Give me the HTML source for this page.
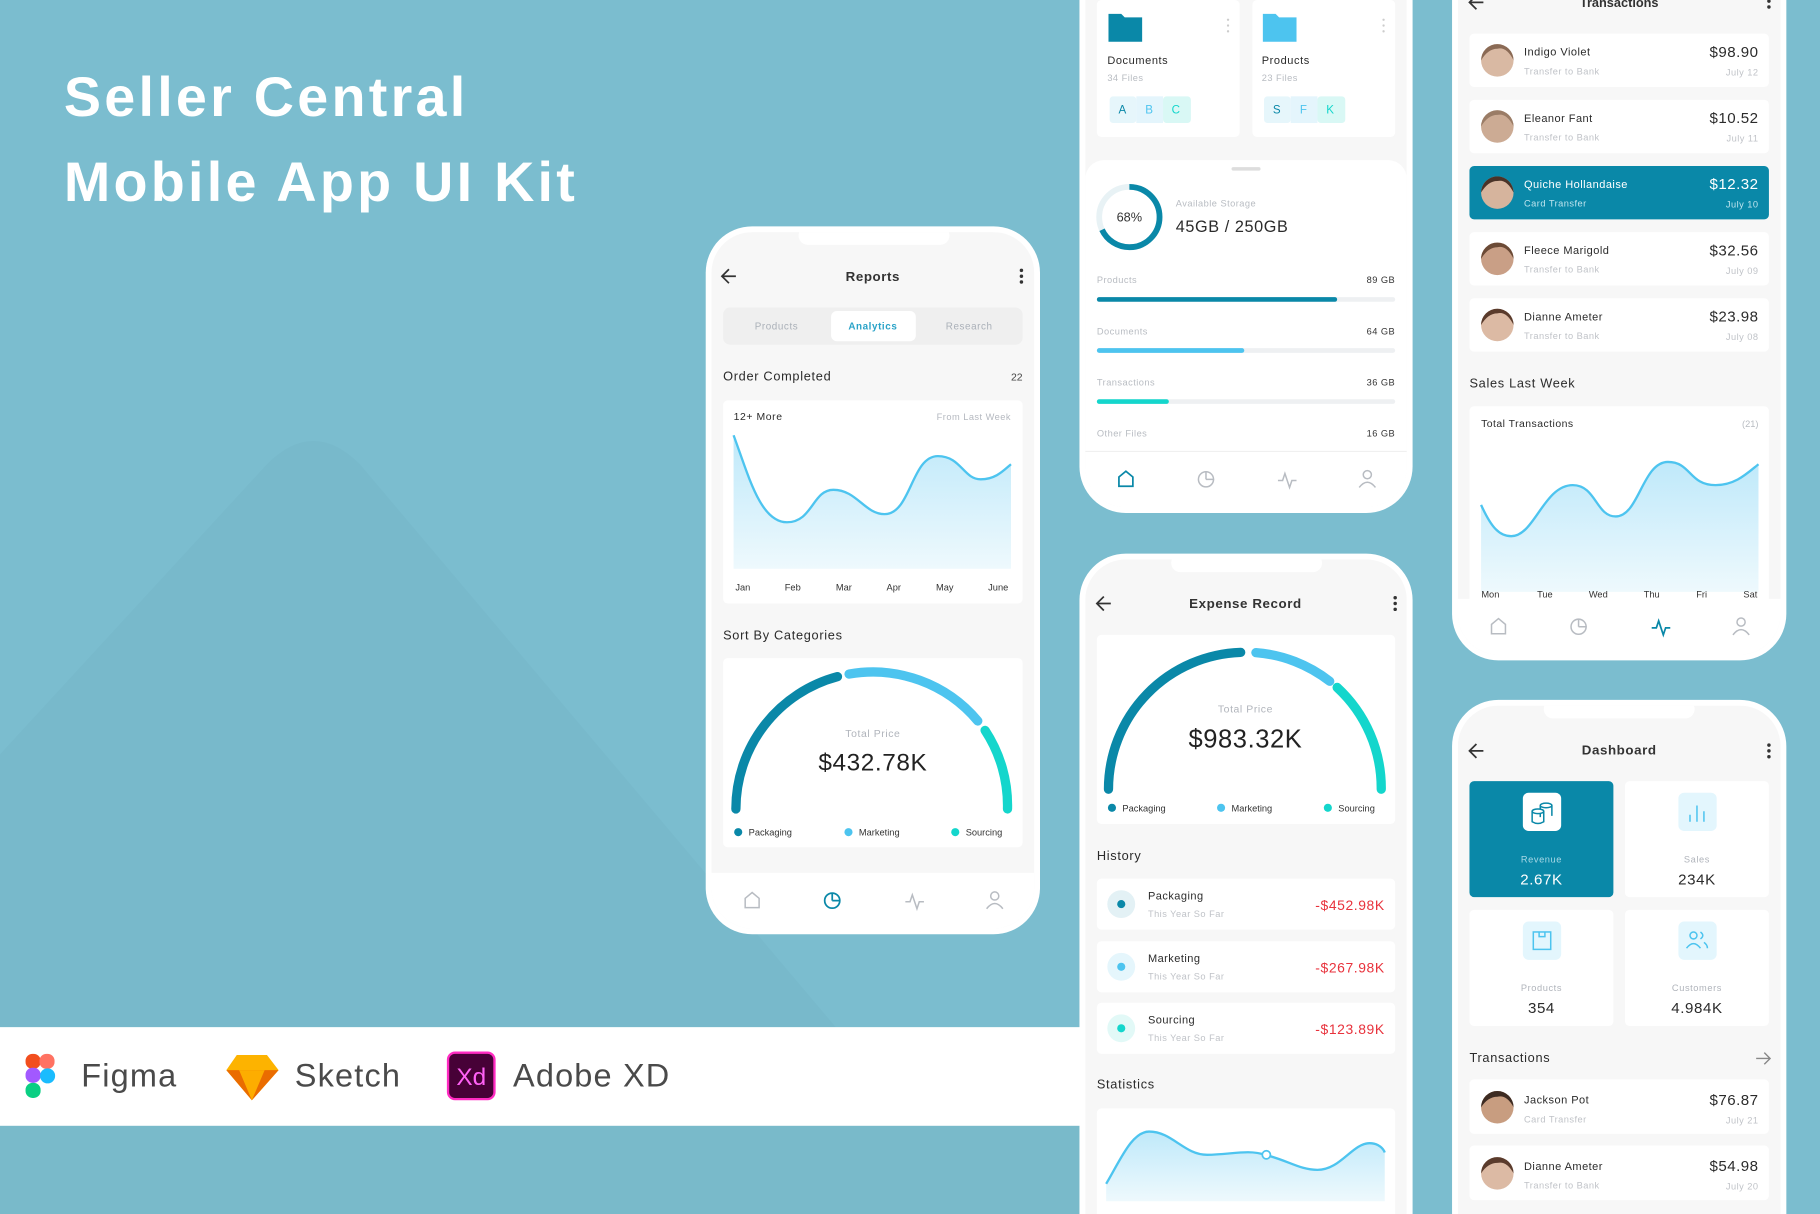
<!DOCTYPE html>
<html><head><meta charset="utf-8"><style>
html,body{margin:0;padding:0;width:1820px;height:1214px;overflow:hidden;background:#7bbdcf}
svg{display:block}
text{font-family:"Liberation Sans",sans-serif}
</style></head><body>
<svg width="1820" height="1214" viewBox="0 0 1568 1046" preserveAspectRatio="none" xmlns="http://www.w3.org/2000/svg">
<defs>
<linearGradient id="fillg" x1="0" y1="0" x2="0" y2="1"><stop offset="0" stop-color="#bfe9fa"/><stop offset="1" stop-color="#eef9fd"/></linearGradient>
<clipPath id="c1"><rect x="613" y="200" width="278" height="600" rx="35"/></clipPath>
<clipPath id="c2"><rect x="935" y="-40" width="277" height="477" rx="35"/></clipPath>
<clipPath id="c3"><rect x="935" y="482" width="277" height="610" rx="35"/></clipPath>
<clipPath id="c4"><rect x="1256" y="-40" width="278" height="604" rx="35"/></clipPath>
<clipPath id="c5"><rect x="1256" y="608" width="278" height="480" rx="35"/></clipPath>
</defs>
<rect width="1568" height="1046" fill="#7bbdcf"/>
<path d="M0,650 L230,400 Q270,360 310,400 L720,885 L0,885 Z" fill="#78b9cb"/>
<path d="M0,970 L930,970 L930,1046 L0,1046 Z" fill="#79baca"/>
<text x="55" y="100" font-size="48" font-weight="bold" fill="#fff" letter-spacing="2.8">Seller Central</text>
<text x="55" y="173" font-size="48" font-weight="bold" fill="#fff" letter-spacing="2.8">Mobile App UI Kit</text>
<!-- bottom bar -->
<rect x="0" y="885" width="932" height="85" fill="#fff"/>
<g>
<rect x="22" y="908" width="13" height="13" rx="6" fill="#f24e1e"/><rect x="34" y="908" width="13" height="13" rx="6" fill="#ff7262"/>
<rect x="22" y="920" width="13" height="13" rx="6" fill="#a259ff"/><circle cx="41" cy="927" r="6.5" fill="#1abcfe"/>
<rect x="22" y="933" width="13" height="13" rx="6" fill="#0acf83"/>
</g>
<text x="70" y="936" font-size="28" fill="#4a4a4a" letter-spacing="1">Figma</text>
<polygon points="204,909 230,909 240,922 217,948 195,922" fill="#fdb300"/><polygon points="195,922 240,922 217,948" fill="#ea6c00"/><polygon points="206,922 228,922 217,948" fill="#fdad00"/>
<text x="254" y="936" font-size="28" fill="#4a4a4a" letter-spacing="1">Sketch</text>
<rect x="386" y="907" width="40" height="40" rx="6" fill="#470137" stroke="#ff2bc2" stroke-width="2"/>
<text x="406" y="935" font-size="21" fill="#ff61f6" text-anchor="middle">Xd</text>
<text x="442" y="936" font-size="28" fill="#4a4a4a" letter-spacing="1">Adobe XD</text>

<!-- PHONE 1 Reports -->
<rect x="608" y="195" width="288" height="610" rx="40" fill="#fff"/>
<g clip-path="url(#c1)">
<rect x="613" y="200" width="278" height="600" fill="#f7f7f7"/>
<rect x="688" y="195" width="130" height="16" rx="8" fill="#fff"/>
<path d="M634,238 H622 M628,232 L622,238 L628,244" stroke="#333" stroke-width="1.5" fill="none"/>
<text x="752" y="242" font-size="11.5" fill="#333" text-anchor="middle" font-weight="bold" letter-spacing=".5">Reports</text>
<circle cx="880" cy="233" r="1.5" fill="#333"/><circle cx="880" cy="238" r="1.5" fill="#333"/><circle cx="880" cy="243" r="1.5" fill="#333"/>
<rect x="623" y="265" width="258" height="32" rx="6" fill="#efefef"/>
<rect x="716" y="268" width="73" height="26" rx="5" fill="#fff"/>
<text x="669" y="284" font-size="8.5" fill="#aab0b8" text-anchor="middle" letter-spacing=".5">Products</text>
<text x="752" y="284" font-size="8.5" fill="#2aa3c8" text-anchor="middle" font-weight="bold" letter-spacing=".5">Analytics</text>
<text x="835" y="284" font-size="8.5" fill="#aab0b8" text-anchor="middle" letter-spacing=".5">Research</text>
<text x="623" y="328" font-size="11" fill="#2b2b2b" letter-spacing=".6">Order Completed</text>
<text x="881" y="328" font-size="9" fill="#444" text-anchor="end">22</text>
<rect x="623" y="345" width="258" height="175" rx="4" fill="#fff"/>
<text x="632" y="362" font-size="9" fill="#2b2b2b" letter-spacing=".5">12+ More</text>
<text x="871" y="362" font-size="8" fill="#b5b9c0" text-anchor="end" letter-spacing=".4">From Last Week</text>
<path d="M632,375 C645,410 655,450 678,450 C700,450 700,422 718,422 C738,422 745,443 762,443 C785,443 785,393 808,393 C828,393 830,413 845,413 C858,413 865,405 871,400 L871,490 L632,490 Z" fill="url(#fillg)"/>
<path d="M632,375 C645,410 655,450 678,450 C700,450 700,422 718,422 C738,422 745,443 762,443 C785,443 785,393 808,393 C828,393 830,413 845,413 C858,413 865,405 871,400" fill="none" stroke="#4dc4ef" stroke-width="2"/>
<g font-size="8" fill="#333" text-anchor="middle"><text x="640" y="509">Jan</text><text x="683" y="509">Feb</text><text x="727" y="509">Mar</text><text x="770" y="509">Apr</text><text x="814" y="509">May</text><text x="860" y="509">June</text></g>
<text x="623" y="551" font-size="11" fill="#2b2b2b" letter-spacing=".6">Sort By Categories</text>
<rect x="623" y="567" width="258" height="163" rx="4" fill="#fff"/>
<path d="M634,697 A118,118 0 0 1 721.5,583" fill="none" stroke="#0a88a8" stroke-width="8" stroke-linecap="round"/>
<path d="M731.5,580.8 A118,118 0 0 1 842.4,621.2" fill="none" stroke="#4dc4ef" stroke-width="8" stroke-linecap="round"/>
<path d="M848.7,629.3 A118,118 0 0 1 868,697" fill="none" stroke="#14d6cc" stroke-width="8" stroke-linecap="round"/>
<text x="752" y="635" font-size="9" fill="#b0b4bb" text-anchor="middle" letter-spacing=".5">Total Price</text>
<text x="752" y="664" font-size="21" fill="#222" text-anchor="middle" letter-spacing=".5">$432.78K</text>
<g font-size="8" fill="#333"><circle cx="636" cy="717" r="3.5" fill="#0a88a8"/><text x="645" y="720">Packaging</text><circle cx="731" cy="717" r="3.5" fill="#4dc4ef"/><text x="740" y="720">Marketing</text><circle cx="823" cy="717" r="3.5" fill="#14d6cc"/><text x="832" y="720">Sourcing</text></g>
<rect x="613" y="752" width="278" height="60" fill="#fff"/>
<g stroke="#b8bcc2" stroke-width="1.3" fill="none">
<path d="M642,782 V774 L648,769 L654,774 V782 Z"/>
<circle cx="857" cy="772" r="3.5"/><path d="M850,783 Q857,774 864,783"/>
<path d="M780,777 H784 L786,771 L790,783 L792,777 H796"/>
</g>
<circle cx="717" cy="776" r="6.5" fill="none" stroke="#0a88a8" stroke-width="1.5"/><path d="M717,776 V769 M717,776 H724" stroke="#0a88a8" stroke-width="1.5"/>
</g>

<!-- PHONE 2 storage -->
<rect x="930" y="-45" width="287" height="487" rx="40" fill="#fff"/>
<g clip-path="url(#c2)">
<rect x="935" y="-40" width="277" height="477" fill="#f7f7f7"/>
<rect x="945" y="0" width="123" height="118" rx="4" fill="#fff"/>
<rect x="1079" y="0" width="123" height="118" rx="4" fill="#fff"/>
<path d="M955,12 H966 L969,15 H984 V36 H955 Z" fill="#0a88a8"/>
<path d="M1088,12 H1099 L1102,15 H1117 V36 H1088 Z" fill="#4dc4ef"/>
<g fill="#ccc"><circle cx="1058" cy="17" r="1"/><circle cx="1058" cy="22" r="1"/><circle cx="1058" cy="27" r="1"/><circle cx="1192" cy="17" r="1"/><circle cx="1192" cy="22" r="1"/><circle cx="1192" cy="27" r="1"/></g>
<text x="954" y="55" font-size="9.5" fill="#2b2b2b" letter-spacing=".5">Documents</text>
<text x="954" y="70" font-size="8" fill="#b8bcc2" letter-spacing=".4">34 Files</text>
<text x="1087" y="55" font-size="9.5" fill="#2b2b2b" letter-spacing=".5">Products</text>
<text x="1087" y="70" font-size="8" fill="#b8bcc2" letter-spacing=".4">23 Files</text>
<rect x="956" y="83" width="23" height="23" rx="3" fill="#e6f6fb"/><rect x="979" y="83" width="23" height="23" fill="#e4f5fc"/><rect x="1002" y="83" width="24" height="23" rx="3" fill="#d9f8f5"/>
<rect x="1089" y="83" width="23" height="23" rx="3" fill="#e6f6fb"/><rect x="1112" y="83" width="23" height="23" fill="#e4f5fc"/><rect x="1135" y="83" width="24" height="23" rx="3" fill="#d9f8f5"/>
<g font-size="10" text-anchor="middle"><text x="967" y="98" fill="#0a88a8">A</text><text x="990" y="98" fill="#4dc4ef">B</text><text x="1013" y="98" fill="#14d6cc">C</text><text x="1100" y="98" fill="#0a88a8">S</text><text x="1123" y="98" fill="#4dc4ef">F</text><text x="1146" y="98" fill="#14d6cc">K</text></g>
<rect x="935" y="138" width="277" height="300" rx="16" fill="#fff"/>
<rect x="1061" y="144" width="25" height="3" rx="1.5" fill="#ddd"/>
<circle cx="973" cy="187" r="26" fill="none" stroke="#e8f2f5" stroke-width="5"/>
<circle cx="973" cy="187" r="26" fill="none" stroke="#0a88a8" stroke-width="5" stroke-dasharray="111 164" transform="rotate(-90 973 187)"/>
<text x="973" y="191" font-size="11" fill="#333" text-anchor="middle">68%</text>
<text x="1013" y="178" font-size="8" fill="#b8bcc2" letter-spacing=".4">Available Storage</text>
<text x="1013" y="200" font-size="14" fill="#2b2b2b" letter-spacing=".5">45GB / 250GB</text>
<g font-size="8" letter-spacing=".4">
<text x="945" y="244" fill="#b8bcc2">Products</text><text x="1202" y="244" fill="#333" text-anchor="end">89 GB</text>
<text x="945" y="288" fill="#b8bcc2">Documents</text><text x="1202" y="288" fill="#333" text-anchor="end">64 GB</text>
<text x="945" y="332" fill="#b8bcc2">Transactions</text><text x="1202" y="332" fill="#333" text-anchor="end">36 GB</text>
<text x="945" y="376" fill="#b8bcc2">Other Files</text><text x="1202" y="376" fill="#333" text-anchor="end">16 GB</text>
</g>
<rect x="945" y="256" width="257" height="4" rx="2" fill="#eef0f2"/><rect x="945" y="256" width="207" height="4" rx="2" fill="#0a88a8"/>
<rect x="945" y="300" width="257" height="4" rx="2" fill="#eef0f2"/><rect x="945" y="300" width="127" height="4" rx="2" fill="#4dc4ef"/>
<rect x="945" y="344" width="257" height="4" rx="2" fill="#eef0f2"/><rect x="945" y="344" width="62" height="4" rx="2" fill="#14d6cc"/>
<rect x="935" y="389" width="277" height="55" fill="#fff"/>
<line x1="935" y1="389" x2="1212" y2="389" stroke="#f0f0f0"/>
<path d="M964,419 V411 L970,406 L976,411 V419 Z" stroke="#0a88a8" stroke-width="1.5" fill="none"/>
<g stroke="#b8bcc2" stroke-width="1.3" fill="none">
<circle cx="1039" cy="413" r="6.5"/><path d="M1039,413 V406 M1039,413 H1046"/>
<path d="M1101,414 H1105 L1107,408 L1111,420 L1113,414 H1117"/>
<circle cx="1178" cy="409" r="3.5"/><path d="M1171,420 Q1178,411 1185,420"/>
</g>
</g>

<!-- PHONE 3 Expense -->
<rect x="930" y="477" width="287" height="620" rx="40" fill="#fff"/>
<g clip-path="url(#c3)">
<rect x="935" y="482" width="277" height="610" fill="#f7f7f7"/>
<rect x="1009" y="477" width="130" height="16" rx="8" fill="#fff"/>
<path d="M957,520 H945 M951,514 L945,520 L951,526" stroke="#333" stroke-width="1.5" fill="none"/>
<text x="1073" y="524" font-size="11.5" fill="#333" text-anchor="middle" font-weight="bold" letter-spacing=".5">Expense Record</text>
<circle cx="1202" cy="515" r="1.5" fill="#333"/><circle cx="1202" cy="520" r="1.5" fill="#333"/><circle cx="1202" cy="525" r="1.5" fill="#333"/>
<rect x="945" y="547" width="257" height="163" rx="4" fill="#fff"/>
<path d="M955,680 A118,118 0 0 1 1068.9,562.1" fill="none" stroke="#0a88a8" stroke-width="8" stroke-linecap="round"/>
<path d="M1082,562.3 A118,118 0 0 1 1145.6,587" fill="none" stroke="#4dc4ef" stroke-width="8" stroke-linecap="round"/>
<path d="M1152,592.3 A118,118 0 0 1 1190,680" fill="none" stroke="#14d6cc" stroke-width="8" stroke-linecap="round"/>
<text x="1073" y="614" font-size="9" fill="#b0b4bb" text-anchor="middle" letter-spacing=".5">Total Price</text>
<text x="1073" y="644" font-size="22" fill="#222" text-anchor="middle" letter-spacing=".5">$983.32K</text>
<g font-size="8" fill="#333"><circle cx="958" cy="696" r="3.5" fill="#0a88a8"/><text x="967" y="699">Packaging</text><circle cx="1052" cy="696" r="3.5" fill="#4dc4ef"/><text x="1061" y="699">Marketing</text><circle cx="1144" cy="696" r="3.5" fill="#14d6cc"/><text x="1153" y="699">Sourcing</text></g>
<text x="945" y="741" font-size="11" fill="#2b2b2b" letter-spacing=".6">History</text>
<g>
<rect x="945" y="757" width="257" height="44" rx="4" fill="#fff"/>
<circle cx="966" cy="779" r="12" fill="#e3f1f5"/><circle cx="966" cy="779" r="3.5" fill="#0a88a8"/>
<text x="989" y="775" font-size="9.5" fill="#2b2b2b" letter-spacing=".4">Packaging</text><text x="989" y="790" font-size="8" fill="#c0c3c8" letter-spacing=".4">This Year So Far</text>
<text x="1193" y="784" font-size="12" fill="#e8323c" text-anchor="end" letter-spacing=".5">-$452.98K</text>
<rect x="945" y="811" width="257" height="44" rx="4" fill="#fff"/>
<circle cx="966" cy="833" r="12" fill="#e5f6fc"/><circle cx="966" cy="833" r="3.5" fill="#4dc4ef"/>
<text x="989" y="829" font-size="9.5" fill="#2b2b2b" letter-spacing=".4">Marketing</text><text x="989" y="844" font-size="8" fill="#c0c3c8" letter-spacing=".4">This Year So Far</text>
<text x="1193" y="838" font-size="12" fill="#e8323c" text-anchor="end" letter-spacing=".5">-$267.98K</text>
<rect x="945" y="864" width="257" height="44" rx="4" fill="#fff"/>
<circle cx="966" cy="886" r="12" fill="#e2f9f7"/><circle cx="966" cy="886" r="3.5" fill="#14d6cc"/>
<text x="989" y="882" font-size="9.5" fill="#2b2b2b" letter-spacing=".4">Sourcing</text><text x="989" y="897" font-size="8" fill="#c0c3c8" letter-spacing=".4">This Year So Far</text>
<text x="1193" y="891" font-size="12" fill="#e8323c" text-anchor="end" letter-spacing=".5">-$123.89K</text>
</g>
<text x="945" y="938" font-size="11" fill="#2b2b2b" letter-spacing=".6">Statistics</text>
<rect x="945" y="955" width="257" height="100" rx="4" fill="#fff"/>
<path d="M953,1020 C965,1000 975,975 990,975 C1010,975 1020,995 1040,995 C1060,995 1075,990 1090,995 C1110,1000 1120,1008 1135,1008 C1155,1008 1165,985 1180,985 C1188,985 1192,990 1193,993 L1193,1035 L953,1035 Z" fill="url(#fillg)"/>
<path d="M953,1020 C965,1000 975,975 990,975 C1010,975 1020,995 1040,995 C1060,995 1075,990 1090,995 C1110,1000 1120,1008 1135,1008 C1155,1008 1165,985 1180,985 C1188,985 1192,990 1193,993" fill="none" stroke="#4dc4ef" stroke-width="2"/>
<circle cx="1091" cy="995" r="3.5" fill="#fff" stroke="#4dc4ef" stroke-width="1.5"/>
</g>

<!-- PHONE 4 Transactions -->
<rect x="1251" y="-45" width="288" height="614" rx="40" fill="#fff"/>
<g clip-path="url(#c4)">
<rect x="1256" y="-40" width="278" height="604" fill="#f7f7f7"/>
<path d="M1278,2 H1266 M1272,-4 L1266,2 L1272,8" stroke="#333" stroke-width="1.5" fill="none"/>
<text x="1395" y="6" font-size="11" fill="#333" text-anchor="middle" font-weight="bold">Transactions</text>
<circle cx="1524" cy="1" r="1.5" fill="#333"/><circle cx="1524" cy="6" r="1.5" fill="#333"/>
<g font-size="9.5" letter-spacing=".4">
<rect x="1266" y="29" width="258" height="46" rx="4" fill="#fff"/>
<circle cx="1290" cy="52" r="14" fill="#d9b9a3"/><path d="M1276,52 A14,14 0 0 1 1304,52 Q1298,40 1290,42 Q1282,42 1276,52Z" fill="#8a6a55"/>
<text x="1313" y="48" fill="#2b2b2b">Indigo Violet</text><text x="1313" y="64" font-size="8" fill="#c0c3c8">Transfer to Bank</text>
<text x="1515" y="49" font-size="13" fill="#2b2b2b" text-anchor="end">$98.90</text><text x="1515" y="65" font-size="8" fill="#c0c3c8" text-anchor="end">July 12</text>
<rect x="1266" y="86" width="258" height="46" rx="4" fill="#fff"/>
<circle cx="1290" cy="109" r="14" fill="#ccab94"/><path d="M1276,109 A14,14 0 0 1 1304,109 Q1298,97 1290,99 Q1282,99 1276,109Z" fill="#9a7c66"/>
<text x="1313" y="105" fill="#2b2b2b">Eleanor Fant</text><text x="1313" y="121" font-size="8" fill="#c0c3c8">Transfer to Bank</text>
<text x="1515" y="106" font-size="13" fill="#2b2b2b" text-anchor="end">$10.52</text><text x="1515" y="122" font-size="8" fill="#c0c3c8" text-anchor="end">July 11</text>
<rect x="1266" y="143" width="258" height="46" rx="4" fill="#0a88a8"/>
<circle cx="1290" cy="166" r="14" fill="#d6b49d"/><path d="M1276,166 A14,14 0 0 1 1304,166 Q1298,154 1290,156 Q1282,156 1276,166Z" fill="#4a3328"/>
<text x="1313" y="162" fill="#fff">Quiche Hollandaise</text><text x="1313" y="178" font-size="8" fill="#bfe4ee">Card Transfer</text>
<text x="1515" y="163" font-size="13" fill="#fff" text-anchor="end">$12.32</text><text x="1515" y="179" font-size="8" fill="#bfe4ee" text-anchor="end">July 10</text>
<rect x="1266" y="200" width="258" height="46" rx="4" fill="#fff"/>
<circle cx="1290" cy="223" r="14" fill="#c99f86"/><path d="M1276,223 A14,14 0 0 1 1304,223 Q1298,211 1290,213 Q1282,213 1276,223Z" fill="#6b4a36"/>
<text x="1313" y="219" fill="#2b2b2b">Fleece Marigold</text><text x="1313" y="235" font-size="8" fill="#c0c3c8">Transfer to Bank</text>
<text x="1515" y="220" font-size="13" fill="#2b2b2b" text-anchor="end">$32.56</text><text x="1515" y="236" font-size="8" fill="#c0c3c8" text-anchor="end">July 09</text>
<rect x="1266" y="257" width="258" height="46" rx="4" fill="#fff"/>
<circle cx="1290" cy="280" r="14" fill="#dcbaa4"/><path d="M1276,280 A14,14 0 0 1 1304,280 Q1298,268 1290,270 Q1282,270 1276,280Z" fill="#5a3b2c"/>
<text x="1313" y="276" fill="#2b2b2b">Dianne Ameter</text><text x="1313" y="292" font-size="8" fill="#c0c3c8">Transfer to Bank</text>
<text x="1515" y="277" font-size="13" fill="#2b2b2b" text-anchor="end">$23.98</text><text x="1515" y="293" font-size="8" fill="#c0c3c8" text-anchor="end">July 08</text>
</g>
<text x="1266" y="334" font-size="11" fill="#2b2b2b" letter-spacing=".6">Sales Last Week</text>
<rect x="1266" y="350" width="258" height="170" rx="4" fill="#fff"/>
<text x="1276" y="368" font-size="9" fill="#2b2b2b" letter-spacing=".4">Total Transactions</text>
<text x="1515" y="368" font-size="8" fill="#b8bcc2" text-anchor="end">(21)</text>
<path d="M1276,435 C1285,455 1292,462 1302,462 C1322,462 1330,418 1355,418 C1375,418 1375,445 1392,445 C1412,445 1415,398 1437,398 C1457,398 1455,418 1478,418 C1495,418 1505,408 1515,400 L1515,510 L1276,510 Z" fill="url(#fillg)"/>
<path d="M1276,435 C1285,455 1292,462 1302,462 C1322,462 1330,418 1355,418 C1375,418 1375,445 1392,445 C1412,445 1415,398 1437,398 C1457,398 1455,418 1478,418 C1495,418 1505,408 1515,400" fill="none" stroke="#4dc4ef" stroke-width="2"/>
<g font-size="8" fill="#333" text-anchor="middle"><text x="1284" y="515">Mon</text><text x="1331" y="515">Tue</text><text x="1377" y="515">Wed</text><text x="1423" y="515">Thu</text><text x="1466" y="515">Fri</text><text x="1508" y="515">Sat</text></g>
<rect x="1256" y="516" width="278" height="55" fill="#fff"/>
<g stroke="#b8bcc2" stroke-width="1.3" fill="none">
<path d="M1285,546 V538 L1291,533 L1297,538 V546 Z"/>
<circle cx="1360" cy="540" r="6.5"/><path d="M1360,540 V533 M1360,540 H1367"/>
<circle cx="1500" cy="536" r="3.5"/><path d="M1493,547 Q1500,538 1507,547"/>
</g>
<path d="M1423,541 H1427 L1429,535 L1433,547 L1435,541 H1439" stroke="#0a88a8" stroke-width="1.5" fill="none"/>
</g>

<!-- PHONE 5 Dashboard -->
<rect x="1251" y="603" width="288" height="494" rx="40" fill="#fff"/>
<g clip-path="url(#c5)">
<rect x="1256" y="608" width="278" height="480" fill="#f7f7f7"/>
<rect x="1330" y="603" width="130" height="16" rx="8" fill="#fff"/>
<path d="M1278,647 H1266 M1272,641 L1266,647 L1272,653" stroke="#333" stroke-width="1.5" fill="none"/>
<text x="1395" y="650" font-size="11.5" fill="#333" text-anchor="middle" font-weight="bold" letter-spacing=".5">Dashboard</text>
<circle cx="1524" cy="642" r="1.5" fill="#333"/><circle cx="1524" cy="647" r="1.5" fill="#333"/><circle cx="1524" cy="652" r="1.5" fill="#333"/>
<rect x="1266" y="673" width="124" height="100" rx="4" fill="#0a88a8"/>
<rect x="1400" y="673" width="124" height="100" rx="4" fill="#fff"/>
<rect x="1266" y="784" width="124" height="100" rx="4" fill="#fff"/>
<rect x="1400" y="784" width="124" height="100" rx="4" fill="#fff"/>
<rect x="1312" y="683" width="33" height="33" rx="5" fill="#fff"/>
<g stroke="#0a88a8" stroke-width="1.3" fill="none"><ellipse cx="1332" cy="694" rx="5" ry="2"/><path d="M1327,694 V704 M1337,694 V703"/><ellipse cx="1325" cy="699" rx="5" ry="2" fill="#fff"/><path d="M1320,699 V708 Q1325,711 1330,708 V699"/></g>
<rect x="1446" y="683" width="33" height="33" rx="5" fill="#e3f6fd"/>
<path d="M1456,708 V702 M1462,708 V694 M1468,708 V699" stroke="#4dc4ef" stroke-width="1.3"/>
<rect x="1312" y="794" width="33" height="33" rx="5" fill="#e3f6fd"/>
<rect x="1321" y="803" width="15" height="15" fill="none" stroke="#4dc4ef" stroke-width="1.3"/><path d="M1326,803 V807 H1331 V803" stroke="#4dc4ef" stroke-width="1.3" fill="none"/>
<rect x="1446" y="794" width="33" height="33" rx="5" fill="#e3f6fd"/>
<g stroke="#4dc4ef" stroke-width="1.3" fill="none"><circle cx="1459" cy="806" r="3"/><path d="M1453,817 Q1459,809 1465,817"/><path d="M1465,803 Q1469,806 1465,809 M1468,812 Q1471,814 1471,817"/></g>
<g text-anchor="middle" letter-spacing=".5">
<text x="1328" y="743" font-size="8" fill="#a8d8e6">Revenue</text><text x="1328" y="762" font-size="13" fill="#fff">2.67K</text>
<text x="1462" y="743" font-size="8" fill="#b0b4bb">Sales</text><text x="1462" y="762" font-size="13" fill="#2b2b2b">234K</text>
<text x="1328" y="854" font-size="8" fill="#b0b4bb">Products</text><text x="1328" y="873" font-size="13" fill="#2b2b2b">354</text>
<text x="1462" y="854" font-size="8" fill="#b0b4bb">Customers</text><text x="1462" y="873" font-size="13" fill="#2b2b2b">4.984K</text>
</g>
<text x="1266" y="915" font-size="11" fill="#2b2b2b" letter-spacing=".6">Transactions</text>
<path d="M1513,912 H1525 M1520,907 L1525,912 L1520,917" stroke="#888" stroke-width="1.2" fill="none"/>
<g font-size="9.5" letter-spacing=".4">
<rect x="1266" y="930" width="258" height="47" rx="4" fill="#fff"/>
<circle cx="1290" cy="954" r="14" fill="#c89d80"/><path d="M1276,954 A14,14 0 0 1 1304,954 Q1298,943 1290,945 Q1282,945 1276,954Z" fill="#3d2b22"/>
<text x="1313" y="951" fill="#2b2b2b">Jackson Pot</text><text x="1313" y="967" font-size="8" fill="#c0c3c8">Card Transfer</text>
<text x="1515" y="952" font-size="13" fill="#2b2b2b" text-anchor="end">$76.87</text><text x="1515" y="968" font-size="8" fill="#c0c3c8" text-anchor="end">July 21</text>
<rect x="1266" y="987" width="258" height="47" rx="4" fill="#fff"/>
<circle cx="1290" cy="1011" r="14" fill="#dcbaa4"/><path d="M1276,1011 A14,14 0 0 1 1304,1011 Q1298,1000 1290,1002 Q1282,1002 1276,1011Z" fill="#5a3b2c"/>
<text x="1313" y="1008" fill="#2b2b2b">Dianne Ameter</text><text x="1313" y="1024" font-size="8" fill="#c0c3c8">Transfer to Bank</text>
<text x="1515" y="1009" font-size="13" fill="#2b2b2b" text-anchor="end">$54.98</text><text x="1515" y="1025" font-size="8" fill="#c0c3c8" text-anchor="end">July 20</text>
</g>
</g>
</svg>
</body></html>
